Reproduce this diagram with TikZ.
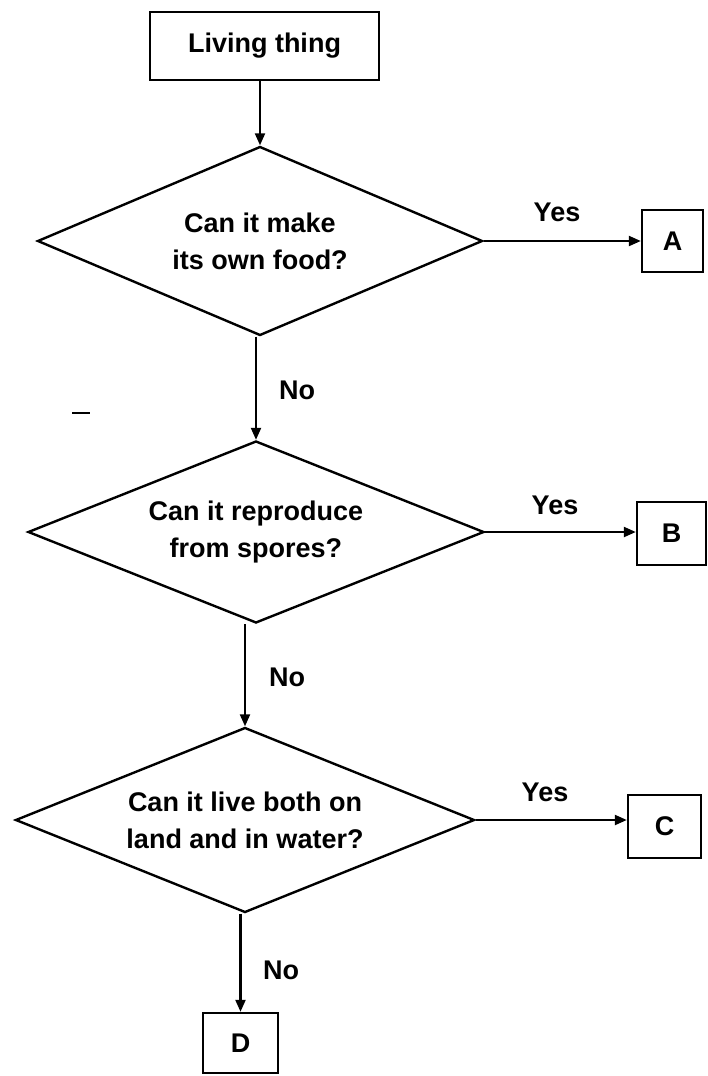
\documentclass[tikz,border=0pt]{standalone}
\usepackage{fontspec}
\setmainfont{Liberation Sans}
\usetikzlibrary{shapes.geometric,arrows.meta}
\begin{document}
\begin{tikzpicture}[x=1pt,y=-1pt,
  every node/.style={font=\bfseries\fontsize{27}{37}\selectfont},
  boxnode/.style={draw, line width=2.4pt, inner sep=0pt},
  decision/.style={draw, diamond, line width=2.4pt, inner sep=0pt, align=center, shape aspect=2.45},
  arr/.style={line width=2.2pt, -{Triangle[length=12pt,width=10pt]}},
  lbl/.style={inner sep=0pt}]
\fill[white] (0,0) rectangle (707,1076);
\useasboundingbox (0,0) rectangle (707,1076);

% start box
\node[boxnode, minimum width=229pt, minimum height=68pt] (start) at (264.5,46) {Living thing};

% decisions
\node[decision, minimum width=445pt, minimum height=189pt] (d1) at (260,241) {Can it make\\its own food?};
\node[decision, minimum width=456pt, minimum height=182pt] (d2) at (256,532) {Can it reproduce\\from spores?};
\node[decision, minimum width=459pt, minimum height=185pt] (d3) at (245,820) {Can it live both on\\land and in water?};

% outcome boxes
\node[boxnode, minimum width=61pt, minimum height=62pt] (A) at (672.5,241) {A};
\node[boxnode, minimum width=69pt, minimum height=63pt] (B) at (671.5,533.5) {B};
\node[boxnode, minimum width=73pt, minimum height=63pt] (C) at (664.5,826.5) {C};
\node[boxnode, minimum width=75pt, minimum height=60pt] (D) at (240.5,1043) {D};

% connectors
\draw[arr] (start.south -| d1.north) -- (d1.north);
\draw[arr] (d1.east) -- (d1.east -| A.west);
\draw[arr] (d1.south -| d2.north) -- (d2.north);
\draw[arr] (d2.east) -- (d2.east -| B.west);
\draw[arr] (d2.south -| d3.north) -- (d3.north);
\draw[arr] (d3.east) -- (d3.east -| C.west);
\draw[arr] (d3.south -| D.north) -- (D.north);

% labels
\node[lbl] (y1) at (557,212) {Yes};
\node[lbl] (y2) at (555,505) {Yes};
\node[lbl] (y3) at (545,792) {Yes};
\node[lbl] (n1) at (297,390) {No};
\node[lbl] (n2) at (287,677) {No};
\node[lbl] (n3) at (281,970) {No};

% stray mark
\draw[line width=1.5pt] (72,413) -- (90,413);
\end{tikzpicture}
\end{document}
